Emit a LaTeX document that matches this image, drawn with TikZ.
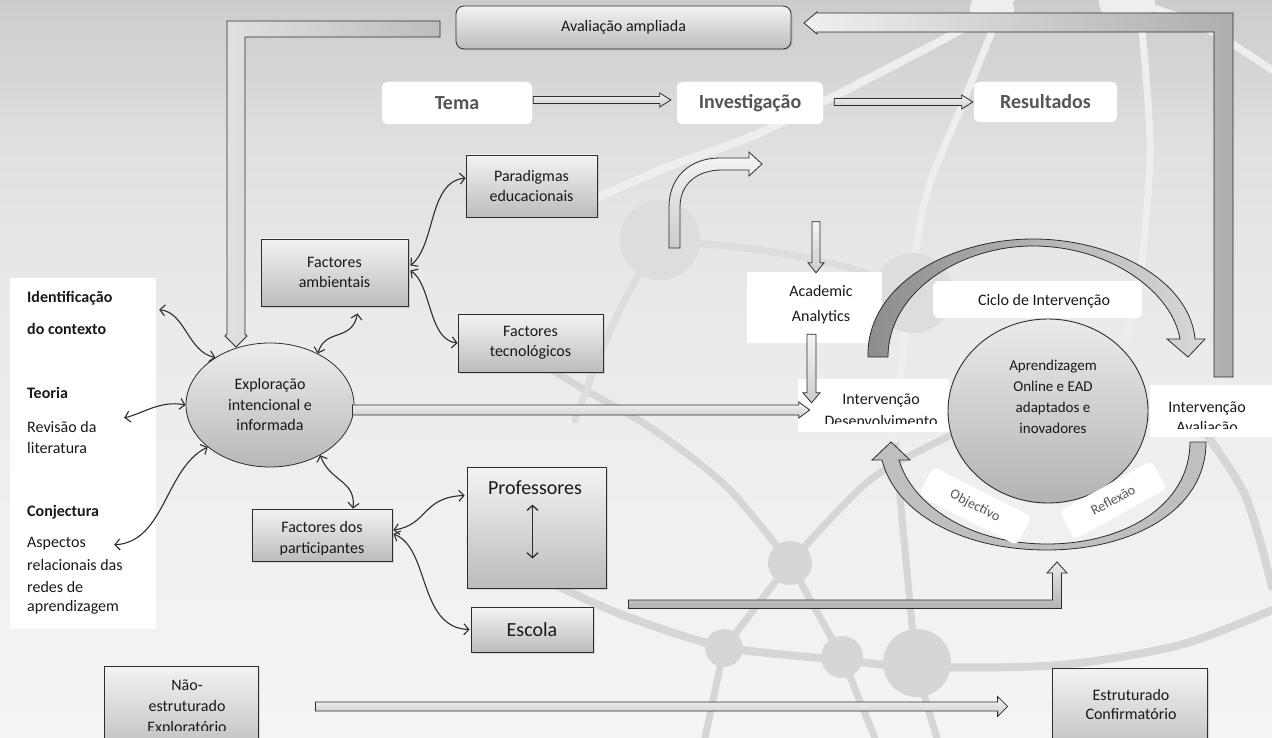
\documentclass[tikz,border=0pt]{standalone}
\usepackage{fontspec}
\setmainfont{Carlito}
\usetikzlibrary{calc,shadows,arrows.meta,shapes.geometric}
\definecolor{bgtop}{RGB}{204,204,204}
\definecolor{bgcf}{RGB}{224,224,224}
\definecolor{bgcc}{RGB}{233,233,233}
\definecolor{bgcb}{RGB}{240,240,240}
\definecolor{bgbot}{RGB}{244,244,244}
\definecolor{netdark}{RGB}{214,214,214}
\definecolor{netmid}{RGB}{221,221,221}
\definecolor{netlight}{RGB}{238,238,238}
\definecolor{edgec}{RGB}{45,45,45}
\definecolor{txtc}{RGB}{25,25,25}
\definecolor{headc}{RGB}{85,85,85}
\definecolor{boxtop}{RGB}{243,243,243}
\definecolor{boxbot}{RGB}{188,188,188}
\pgfdeclareverticalshading{bgsh}{100bp}{color(0bp)=(bgbot); color(25bp)=(bgbot); color(40bp)=(bgcb); color(55bp)=(bgcc); color(65bp)=(bgcf); color(75bp)=(bgtop); color(100bp)=(bgtop)}
\newcommand{\fsz}[2]{\fontsize{#1}{#2}\selectfont}
\newcommand{\hblk}[5]{\draw[blk] ($(#1)+(0,-#3)$) -- ($(#2)+({-(#5)},-#3)$) -- ($(#2)+({-(#5)},-#4)$) -- (#2) -- ($(#2)+({-(#5)},#4)$) -- ($(#2)+({-(#5)},#3)$) -- ($(#1)+(0,#3)$) -- cycle;}
\newcommand{\vblk}[5]{\draw[blk] ($(#1)+(-#3,0)$) -- ($(#2)+(-#3,{-(#5)})$) -- ($(#2)+(-#4,{-(#5)})$) -- (#2) -- ($(#2)+(#4,{-(#5)})$) -- ($(#2)+(#3,{-(#5)})$) -- ($(#1)+(#3,0)$) -- cycle;}
\begin{document}
\begin{tikzpicture}[x=1pt,y=-1pt,
  gbox/.style={draw=edgec, line width=0.8pt, top color=boxtop, bottom color=boxbot, align=center, font=\fsz{16}{20}, text=txtc, inner sep=0pt, drop shadow={opacity=0.25, shadow xshift=1.5pt, shadow yshift=-1.5pt}},
  wbox/.style={fill=white, rounded corners=5pt, align=center, inner sep=0pt, text=txtc},
  hbox/.style={wbox, font=\bfseries\fsz{20}{24}, text=headc},
  ltxt/.style={anchor=west, inner sep=0pt, font=\fsz{16}{20}, text=txtc},
  btxt/.style={anchor=base, inner sep=0pt, font=\fsz{16}{20}, text=txtc},
  dbl/.style={draw=edgec, line width=1.1pt, >={Straight Barb[length=5pt,width=11pt]}, <->},
  blk/.style={draw=edgec, line width=0.8pt, top color=white!96!black, bottom color=black!20, line join=miter},
  netd/.style={draw=netdark, line width=7pt, line cap=round},
  netm/.style={draw=netmid, line width=7pt, line cap=round},
  netl/.style={draw=netlight, line width=7pt, line cap=round}]
\useasboundingbox (0,0) rectangle (1272,738);
\clip (0,0) rectangle (1272,738);
\shade[shading=bgsh] (0,0) rectangle (1272,738);
% background network
\draw[netd, line width=8pt] plot[smooth] coordinates {(470,540) (560,587) (628,617) (724,647) (842,660) (919,667) (1060,665) (1180,645) (1272,610)};
\draw[netd] plot[smooth] coordinates {(520,350) (580,387) (651,428) (727,487) (790,563)};
\draw[netd] plot[smooth] coordinates {(790,563) (870,480) (955,433) (1010,405)};
\draw[netd] (790,563) -- (724,648) -- (705,738);
\draw[netd] (790,563) -- (842,657) -- (875,738);
\draw[netd] plot[smooth] coordinates {(895,440) (905,550) (917,663) (937,738)};
\draw[netd, line width=8pt] plot[smooth] coordinates {(1196,420) (1245,495) (1272,587)};
\fill[netdark] (790,563) circle[radius=22];
\fill[netdark] (724,648) circle[radius=19];
\fill[netdark] (842,657) circle[radius=21];
\fill[netdark] (917,663) circle[radius=34];
\draw[netl, line width=8pt] plot[smooth] coordinates {(560,215) (660,170) (755,135) (850,88) (955,33) (1010,0)};
\fill[netlight] (992,10) circle[radius=22];
\fill[netlight] (1127,0) circle[radius=28];
\draw[netl] plot[smooth] coordinates {(1005,0) (960,110) (925,200) (905,330) (895,440)};
\draw[netl] plot[smooth] coordinates {(1142,30) (1150,150) (1140,280) (1125,340)};
\draw[netl] plot[smooth] coordinates {(1127,0) (1200,25) (1272,70)};
\fill[netmid] (660,240) circle[radius=40];
\draw[netm] plot[smooth] coordinates {(660,240) (760,250) (850,268) (913,293)};
\fill[netmid] (913,293) circle[radius=40];
\draw[netm] plot[smooth] coordinates {(660,240) (630,290) (603,347) (575,420)};
% brackets
\draw[draw=edgec, line width=0.8pt, left color=black!12, right color=black!26] (440,21) -- (227,21) -- (227,334) -- (225,336) -- (236,347) -- (247,336) -- (245,334) -- (245,37) -- (440,37) -- cycle;
\draw[draw=edgec, line width=0.8pt, left color=white!94!black, right color=black!32] (1233,13) -- (1233,377) -- (1214,377) -- (1214,32) -- (817,32) -- (817,34) -- (804,23) -- (817,12) -- (817,13) -- cycle;
% top row
\node[gbox, rounded corners=8pt, minimum width=335pt, minimum height=43pt] (avamp) at (623.5,27.5) {Avaliação ampliada};
\node[hbox, minimum width=150pt, minimum height=42pt] (tema) at (457,103) {Tema};
\node[hbox, minimum width=146pt, minimum height=42pt] (inv) at (750,103) {Investigação};
\node[hbox, minimum width=143pt, minimum height=40pt] (res) at (1045.5,102) {Resultados};
\coordinate (t1) at ($(tema.east)+(1,-3)$);
\coordinate (t2) at ($(inv.west)+(-6,-3)$);
\hblk{t1}{t2}{3.5}{7}{11}
\coordinate (r1) at ($(inv.east)+(11,-1)$);
\coordinate (r2) at ($(res.west)+(-1,0)$);
\hblk{r1}{r2}{3.5}{7}{11}
% small bent arrow
\draw[blk] (669,248) -- (669,207) .. controls (669,177) and (690,158) .. (720,158) -- (749,158) -- (749,152) -- (762,164) -- (749,176) -- (749,170) -- (722,170) .. controls (697,170) and (680,184) .. (680,207) -- (680,248) -- cycle;
% left box
\node[fill=white, minimum width=146pt, minimum height=351pt, inner sep=0pt] (lbox) at (83,453.5) {};
\node[ltxt, font=\bfseries\fsz{16}{20}] (l1) at (27,298) {Identificação};
\node[ltxt, font=\bfseries\fsz{16}{20}] (l2) at (27,329) {do contexto};
\node[ltxt, font=\bfseries\fsz{16}{20}] (l3) at (27,393) {Teoria};
\node[ltxt] (l4) at (27,427) {Revisão da};
\node[ltxt] (l5) at (27,448) {literatura};
\node[ltxt, font=\bfseries\fsz{16}{20}] (l6) at (27,512) {Conjectura};
\node[ltxt] (l7) at (27,544) {Aspectos};
\node[ltxt] (l8) at (27,565) {relacionais das};
\node[ltxt] (l9) at (27,587) {redes de};
\node[ltxt] (l10) at (27,607) {aprendizagem};
% left cluster
\node[ellipse, draw=edgec, line width=0.8pt, top color=white!93!black, bottom color=black!28, minimum width=168pt, minimum height=124pt, inner sep=0pt, align=center, font=\fsz{16}{20.5}, text=txtc] (expl) at (270,405) {Exploração\\intencional e\\informada};
\node[gbox, minimum width=147pt, minimum height=67pt] (fa) at (334.5,272.5) {Factores\\ambientais};
\node[gbox, minimum width=131pt, minimum height=62pt] (par) at (531.5,186) {Paradigmas\\educacionais};
\node[gbox, minimum width=145pt, minimum height=58pt] (tec) at (530.5,343) {Factores\\tecnológicos};
\node[gbox, minimum width=140pt, minimum height=52pt] (fdp) at (322,535) {};
\begin{scope}
\clip ($(fdp.north west)+(1,1)$) rectangle ($(fdp.south east)+(-1,-7)$);
\node[btxt] (fdp1) at (322,532) {Factores dos};
\node[btxt] (fdp2) at (322,553) {participantes};
\end{scope}
\node[gbox, minimum width=139pt, minimum height=121pt] (prof) at (536.5,527.5) {};
\node[font=\fsz{20}{24}, text=txtc, inner sep=0pt] (proft) at (535,488) {Professores};
\node[gbox, font=\fsz{20}{24}, minimum width=122pt, minimum height=45pt] (escola) at (532,629.5) {Escola};
\node[gbox, minimum width=154pt, minimum height=90pt] (nao) at (181,711) {};
\begin{scope}
\clip ($(nao.north west)+(1,1)$) rectangle (258,730);
\node[btxt] (nao1) at (187,690) {Não-};
\node[btxt] (nao2) at (187,711) {estruturado};
\node[btxt] (nao3) at (187,732) {Exploratório};
\end{scope}
\node[gbox, minimum width=155pt, minimum height=90pt] (estr) at (1129.5,713) {};
\node[btxt] (estr1) at (1131,700) {Estruturado};
\node[btxt] (estr2) at (1131,719) {Confirmatório};
% curved connectors
\coordinate (cI) at ($(lbox.north east)+(3,32)$);
\draw[dbl] (cI) .. controls (185,312) and (188,352) .. (expl.139);
\coordinate (cT) at ($(lbox.north east)+(-32,140)$);
\draw[dbl] (cT) .. controls (142,414) and (160,400) .. (expl.west);
\coordinate (cC) at ($(lbox.north east)+(-42,267)$);
\draw[dbl] (cC) .. controls (165,542) and (165,468) .. (expl.214);
\coordinate (fA) at ($(fa.south)+(23,7)$);
\draw[dbl] (expl.47) .. controls (325,328) and (352,342) .. (fA);
\draw[dbl] ($(fa.east)+(2,-7)$) .. controls (436,245) and (428,182) .. ($(par.west)+(0,-8)$);
\draw[dbl] ($(fa.east)+(2,-2)$) .. controls (432,285) and (428,340) .. (tec.west);
\draw[dbl] (expl.-45) .. controls (330,482) and (356,480) .. ($(fdp.north)+(31,0)$);
\draw[dbl] ($(fdp.east)+(1,-5)$) .. controls (428,525) and (422,497) .. ($(prof.west)+(-2,-32)$);
\draw[dbl] ($(fdp.east)+(1,-1)$) .. controls (430,548) and (418,628) .. ($(escola.west)+(-1,0)$);
\draw[dbl, line width=1.3pt] ($(prof.north)+(-4,38)$) -- ($(prof.north)+(-4,92)$);
% right cluster boxes
\node[wbox, rounded corners=0pt, minimum width=135pt, minimum height=71pt] (aa) at (814.5,307.5) {};
\node[align=center, font=\fsz{16}{25}, text=txtc, inner sep=0pt] (aat) at (821,304.5) {Academic\\Analytics};
\node[wbox, rounded corners=0pt, minimum width=151pt, minimum height=53pt] (idev) at (873.5,405.5) {};
\begin{scope}
\clip (idev.north west) rectangle ($(idev.south east)+(0,-9)$);
\node[btxt] (idev1) at (881,404) {Intervenção};
\node[btxt] (idev2) at (881,426) {Desenvolvimento};
\end{scope}
\node[wbox, rounded corners=0pt, minimum width=130pt, minimum height=52pt] (iava) at (1215,411) {};
\begin{scope}
\clip (iava.north west) rectangle ($(iava.south east)+(0,-9)$);
\node[btxt] (iava1) at (1207,412) {Intervenção};
\node[btxt] (iava2) at (1207,432) {Avaliação};
\end{scope}
\node[wbox, rounded corners=6pt, minimum width=209pt, minimum height=37pt] (ciclo) at (1037.5,299.5) {};
\node[font=\fsz{16}{20}, text=txtc, inner sep=0pt] (ciclot) at (1044,301) {Ciclo de Intervenção};
% straight block arrows
\coordinate (a1) at ($(aa.north)+(1.5,-50)$);
\coordinate (a2) at ($(aa.north)+(1.5,1)$);
\vblk{a1}{a2}{4}{8}{10}
\coordinate (a3) at ($(aa.south)+(-3,-9)$);
\coordinate (a4) at ($(idev.north)+(-62,24)$);
\vblk{a3}{a4}{4.5}{8.5}{10}
\coordinate (e1) at ($(expl.east)+(-2,5)$);
\coordinate (e2) at ($(idev.west)+(12,4.5)$);
\hblk{e1}{e2}{5}{8}{11}
\coordinate (b1) at ($(nao.east)+(57,-4.5)$);
\coordinate (b2) at ($(estr.west |- b1)+(-44,0)$);
\hblk{b1}{b2}{4.5}{10}{10}
\coordinate (s1) at ($(escola.east)+(35,-25.5)$);
\coordinate (s2) at (1057,562);
\draw[blk, top color=black!8, bottom color=black!30] ($(s1)+(0,-4)$) -| ($(s2)+(-4.5,11)$) -- ($(s2)+(-10,11)$) -- (s2) -- ($(s2)+(10,11)$) -- ($(s2)+(4.5,11)$) |- ($(s1)+(0,4.5)$) -- cycle;
% cycle arcs
\draw[draw=edgec, line width=0.8pt, left color=black!45, right color=black!15] (868,357) .. controls (866,285) and (950,239) .. (1033,239) .. controls (1115,239) and (1190,282) .. (1195,339) -- (1205,339) -- (1188,357) -- (1167,339) -- (1180,339) .. controls (1172,292) and (1110,246) .. (1033,246) .. controls (960,246) and (888,292) .. (888,357) -- cycle;
\draw[draw=edgec, line width=0.8pt, fill=black!25] (1206,442) .. controls (1206,512) and (1130,550) .. (1047,550) .. controls (960,550) and (895,512) .. (882,460) -- (872,460) -- (891,442) -- (910,460) -- (899,460) .. controls (912,505) and (970,544) .. (1047,544) .. controls (1125,544) and (1190,505) .. (1190,442) -- cycle;
\node[ellipse, draw=edgec, line width=0.9pt, top color=white!92!black, bottom color=black!30, minimum width=200pt, minimum height=184pt] (circ) at (1048,411) {};
\node[align=center, font=\fsz{15}{21}, text=txtc, inner sep=0pt] (circt) at (1053,397) {Aprendizagem\\Online e EAD\\adaptados e\\inovadores};
\node[wbox, rotate=-27, minimum width=110pt, minimum height=32pt, font=\fsz{14}{16}, text=headc] (obj) at (975,506) {Objectivo};
\node[wbox, rotate=29, minimum width=105pt, minimum height=32pt, font=\fsz{14}{16}, text=headc] (refl) at (1113,500) {Reflexão};
\end{tikzpicture}
\end{document}
